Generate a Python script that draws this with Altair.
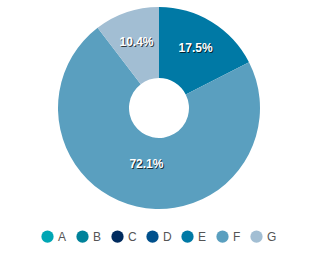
import altair as alt
import pandas as pd

categories = ["A", "B", "C", "D", "E", "F", "G"]
values = [0, 0, 0, 0, 17.5, 72.1, 10.4]
colors = ["#00a6b4", "#00829a", "#002b5e", "#00508c", "#0079a5", "#5a9fbf", "#a2bed3"]

df = pd.DataFrame({"category": categories, "value": values})

color = alt.Color("category:N", scale=alt.Scale(domain=categories, range=colors),
                  legend=alt.Legend(title=None, orient="none", legendX=41, legendY=230,
                                    direction="horizontal",
                                    symbolType="circle", symbolSize=150, symbolStrokeWidth=0,
                                    labelFontSize=12, labelColor="#555555", labelFont="Liberation Sans",
                                    columnPadding=9, labelOffset=4))

arcs = alt.Chart(df).transform_joinaggregate(
    total="sum(value)"
).transform_calculate(
    frac="datum.value / datum.total"
).transform_stack(
    stack="frac", as_=["f0", "f1"], groupby=[], sort=[alt.SortField("category", order="ascending")]
).mark_arc(outerRadius=101, innerRadius=30).encode(
    theta=alt.Theta("f0:Q", scale=alt.Scale(domain=[0, 1], range=[0, 6.283185307179586])),
    theta2="f1:Q",
    color=color,
)

lab = alt.Chart(df).transform_joinaggregate(
    total="sum(value)"
).transform_calculate(
    frac="datum.value / datum.total",
    label="format(datum.value, '.1f') + '%'",
).transform_stack(
    stack="frac", as_=["f0", "f1"], groupby=[], sort=[alt.SortField("category", order="ascending")]
).transform_calculate(
    mid="(datum.f0 + datum.f1) / 2"
).transform_filter("datum.value > 0")

theta_enc = alt.Theta("mid:Q", scale=alt.Scale(domain=[0, 1], range=[0, 6.283185307179586]))


def layers(flt, r):
    b = lab.transform_filter(flt).encode(theta=theta_enc, text="label:N")
    sh = b.mark_text(radius=r, font="Liberation Sans", fontSize=12, fontWeight="bold",
                     color="#000000", opacity=0.7, dx=1, dy=1)
    tx = b.mark_text(radius=r, font="Liberation Sans", fontSize=12, fontWeight="bold",
                     color="#ffffff")
    return [sh, tx]


chart = alt.layer(
    arcs, *layers("datum.frac > 0.5", 57), *layers("datum.frac <= 0.5", 70)
).properties(
    width=318, height=216, padding=0
).configure_view(stroke=None)

chart.save("out.html", embed_options={"renderer": "svg", "actions": False})
